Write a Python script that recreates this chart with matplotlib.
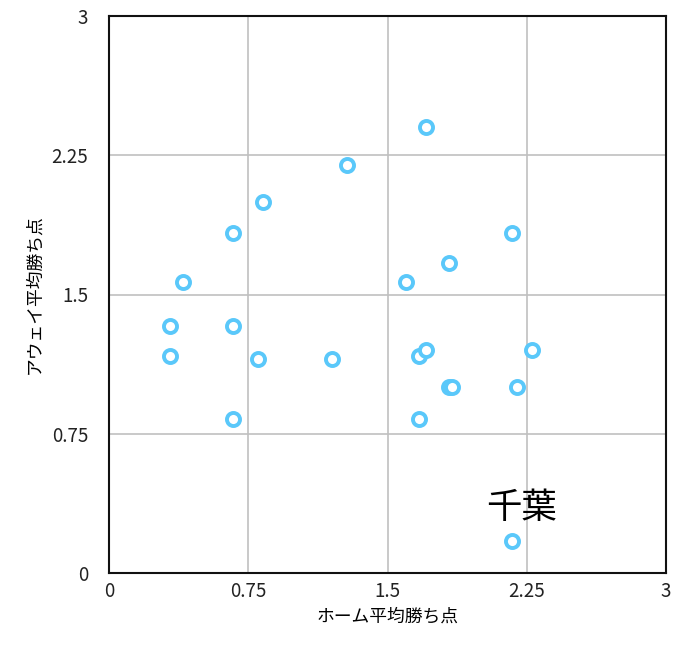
import matplotlib
matplotlib.use('Agg')
import matplotlib.pyplot as plt

plt.rcParams['font.family'] = ['Noto Sans CJK JP', 'DejaVu Sans']

# ホーム / アウェイ平均勝ち点 (one point per team)
home = [1.71, 1.28, 0.83, 0.67, 2.17, 1.83, 0.40, 1.60, 0.33, 0.67, 0.33,
        0.80, 1.20, 1.67, 1.71, 2.28, 1.83, 1.85, 2.20, 0.67, 1.67, 2.17]
away = [2.40, 2.20, 2.00, 1.83, 1.83, 1.67, 1.57, 1.57, 1.33, 1.33, 1.17,
        1.15, 1.15, 1.17, 1.20, 1.20, 1.00, 1.00, 1.00, 0.83, 0.83, 0.17]
label_team = '千葉'
label_idx = 21

ticks = [0, 0.75, 1.5, 2.25, 3]
tick_labels = ['0', '0.75', '1.5', '2.25', '3']

fig = plt.figure(figsize=(6.99, 6.58), dpi=100)
ax = fig.add_axes([109 / 699, 85 / 658, 557 / 699, 557 / 658])

ax.scatter(home, away, s=9.4 ** 2, facecolors='white', edgecolors='#5ac8fa',
           linewidths=2.8, zorder=3)
ax.text(home[label_idx] + 0.05, away[label_idx] + 0.18, label_team, fontsize=25.5,
        ha='center', va='center', color='black', zorder=4)

ax.set_xlim(0, 3)
ax.set_ylim(0, 3)
ax.set_xticks(ticks)
ax.set_yticks(ticks)
ax.set_xticklabels(tick_labels)
ax.set_yticklabels(tick_labels)
ax.tick_params(length=0, labelsize=13.5, colors='#222222', pad=6)
ax.tick_params(axis='y', pad=15)
ax.grid(True, color='#c0c0c0', linewidth=1.2)
ax.set_axisbelow(True)
for sp in ax.spines.values():
    sp.set_linewidth(1.5)
    sp.set_color('#111111')

ax.set_xlabel('ホーム平均勝ち点', fontsize=12.8, labelpad=4)
ax.set_ylabel('アウェイ平均勝ち点', fontsize=12.8, labelpad=6)

fig.savefig('out.png', dpi=100)
